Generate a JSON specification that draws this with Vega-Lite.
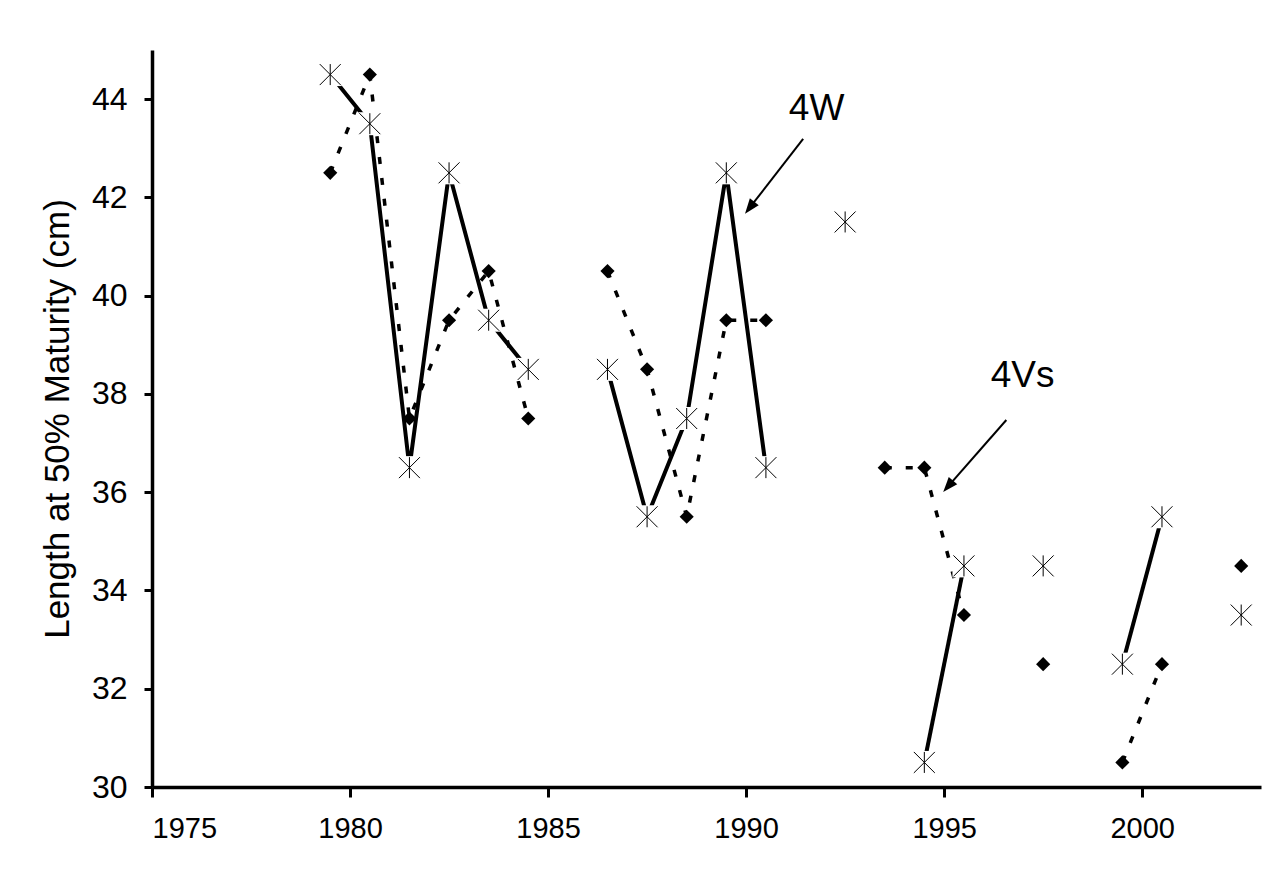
{
  "$schema": "https://vega.github.io/schema/vega-lite/v6.json",
  "width": 1109,
  "height": 737,
  "autosize": {"type": "none"},
  "padding": {"left": 152, "top": 50, "right": 23, "bottom": 92},
  "background": "white",
  "config": {
    "view": {"stroke": null},
    "font": "Liberation Sans",
    "axis": {"grid": false, "domainColor": "black", "tickColor": "black", "labelColor": "black", "titleColor": "black", "labelFont": "Liberation Sans", "titleFont": "Liberation Sans", "titleFontWeight": "normal"}
  },
  "datasets": {
    "obs": [
      {"year": 1979.5, "value": 44.5, "series": "4W", "seg": "a"},
      {"year": 1980.5, "value": 43.5, "series": "4W", "seg": "a"},
      {"year": 1981.5, "value": 36.5, "series": "4W", "seg": "a"},
      {"year": 1982.5, "value": 42.5, "series": "4W", "seg": "a"},
      {"year": 1983.5, "value": 39.5, "series": "4W", "seg": "a"},
      {"year": 1984.5, "value": 38.5, "series": "4W", "seg": "a"},
      {"year": 1986.5, "value": 38.5, "series": "4W", "seg": "b"},
      {"year": 1987.5, "value": 35.5, "series": "4W", "seg": "b"},
      {"year": 1988.5, "value": 37.5, "series": "4W", "seg": "b"},
      {"year": 1989.5, "value": 42.5, "series": "4W", "seg": "b"},
      {"year": 1990.5, "value": 36.5, "series": "4W", "seg": "b"},
      {"year": 1992.5, "value": 41.5, "series": "4W", "seg": "c"},
      {"year": 1994.5, "value": 30.5, "series": "4W", "seg": "d"},
      {"year": 1995.5, "value": 34.5, "series": "4W", "seg": "d"},
      {"year": 1997.5, "value": 34.5, "series": "4W", "seg": "e"},
      {"year": 1999.5, "value": 32.5, "series": "4W", "seg": "f"},
      {"year": 2000.5, "value": 35.5, "series": "4W", "seg": "f"},
      {"year": 2002.5, "value": 33.5, "series": "4W", "seg": "g"},
      {"year": 1979.5, "value": 42.5, "series": "4Vs", "seg": "a"},
      {"year": 1980.5, "value": 44.5, "series": "4Vs", "seg": "a"},
      {"year": 1981.5, "value": 37.5, "series": "4Vs", "seg": "a"},
      {"year": 1982.5, "value": 39.5, "series": "4Vs", "seg": "a"},
      {"year": 1983.5, "value": 40.5, "series": "4Vs", "seg": "a"},
      {"year": 1984.5, "value": 37.5, "series": "4Vs", "seg": "a"},
      {"year": 1986.5, "value": 40.5, "series": "4Vs", "seg": "b"},
      {"year": 1987.5, "value": 38.5, "series": "4Vs", "seg": "b"},
      {"year": 1988.5, "value": 35.5, "series": "4Vs", "seg": "b"},
      {"year": 1989.5, "value": 39.5, "series": "4Vs", "seg": "b"},
      {"year": 1990.5, "value": 39.5, "series": "4Vs", "seg": "b"},
      {"year": 1993.5, "value": 36.5, "series": "4Vs", "seg": "c"},
      {"year": 1994.5, "value": 36.5, "series": "4Vs", "seg": "c"},
      {"year": 1995.5, "value": 33.5, "series": "4Vs", "seg": "c"},
      {"year": 1997.5, "value": 32.5, "series": "4Vs", "seg": "d"},
      {"year": 1999.5, "value": 30.5, "series": "4Vs", "seg": "e"},
      {"year": 2000.5, "value": 32.5, "series": "4Vs", "seg": "e"},
      {"year": 2002.5, "value": 34.5, "series": "4Vs", "seg": "f"}
    ],
    "notes": [
      {"label": "4W", "tx": 1991.78, "ty": 43.8, "x1": 1991.44, "y1": 43.19, "x2": 1990.09, "y2": 41.79},
      {"label": "4Vs", "tx": 1996.98, "ty": 38.37, "x1": 1996.57, "y1": 37.47, "x2": 1995.1, "y2": 36.12}
    ]
  },
  "layer": [
    {
      "data": {"name": "obs"},
      "transform": [{"filter": "datum.series === '4Vs'"}],
      "mark": {"type": "line", "color": "black", "strokeWidth": 3.5, "strokeDash": [7, 14]},
      "encoding": {
        "x": {"field": "year", "type": "quantitative", "scale": {"domain": [1975, 2003], "nice": false, "zero": false},
          "axis": {"values": [1975, 1980, 1985, 1990, 1995, 2000], "format": "d", "title": null, "domainWidth": 3.5, "tickWidth": 3, "tickSize": 10, "labelFontSize": 29, "labelPadding": 17, "labelDx": 21}},
        "y": {"field": "value", "type": "quantitative", "scale": {"domain": [30, 45], "nice": false, "zero": false},
          "axis": {"values": [30, 32, 34, 36, 38, 40, 42, 44], "title": "Length at 50% Maturity (cm)", "domainWidth": 3.5, "tickWidth": 3, "tickSize": 8, "labelFontSize": 32, "labelPadding": 17, "titleFontSize": 35, "titlePadding": 16}},
        "detail": {"field": "seg"},
        "order": {"field": "year"}
      }
    },
    {
      "data": {"name": "obs"},
      "transform": [{"filter": "datum.series === '4W'"}],
      "mark": {"type": "line", "color": "black", "strokeWidth": 4},
      "encoding": {
        "x": {"field": "year", "type": "quantitative"},
        "y": {"field": "value", "type": "quantitative"},
        "detail": {"field": "seg"},
        "order": {"field": "year"}
      }
    },
    {
      "data": {"name": "obs"},
      "transform": [{"filter": "datum.series === '4W'"}],
      "mark": {"type": "point", "shape": "square", "filled": true, "color": "white", "opacity": 1, "size": 529},
      "encoding": {
        "x": {"field": "year", "type": "quantitative"},
        "y": {"field": "value", "type": "quantitative"}
      }
    },
    {
      "data": {"name": "obs"},
      "transform": [{"filter": "datum.series === '4W'"}],
      "mark": {"type": "point", "shape": "M-1,-1L1,1M-1,1L1,-1M0,-1L0,1", "filled": false, "stroke": "black", "strokeWidth": 1, "opacity": 1, "size": 441},
      "encoding": {
        "x": {"field": "year", "type": "quantitative"},
        "y": {"field": "value", "type": "quantitative"}
      }
    },
    {
      "data": {"name": "obs"},
      "transform": [{"filter": "datum.series === '4Vs'"}],
      "mark": {"type": "point", "shape": "diamond", "filled": true, "color": "black", "opacity": 1, "size": 200},
      "encoding": {
        "x": {"field": "year", "type": "quantitative"},
        "y": {"field": "value", "type": "quantitative"}
      }
    },
    {
      "data": {"name": "notes"},
      "mark": {"type": "rule", "color": "black", "strokeWidth": 2},
      "encoding": {
        "x": {"field": "x1", "type": "quantitative"},
        "y": {"field": "y1", "type": "quantitative"},
        "x2": {"field": "x2"},
        "y2": {"field": "y2"}
      }
    },
    {
      "data": {"name": "notes"},
      "transform": [{"filter": "datum.label === '4W'"}],
      "mark": {"type": "point", "shape": "M0,-1L-0.75,1L0.75,1Z", "filled": true, "color": "black", "opacity": 1, "size": 225, "angle": 218},
      "encoding": {
        "x": {"field": "x2", "type": "quantitative"},
        "y": {"field": "y2", "type": "quantitative"}
      }
    },
    {
      "data": {"name": "notes"},
      "transform": [{"filter": "datum.label === '4Vs'"}],
      "mark": {"type": "point", "shape": "M0,-1L-0.75,1L0.75,1Z", "filled": true, "color": "black", "opacity": 1, "size": 225, "angle": 221},
      "encoding": {
        "x": {"field": "x2", "type": "quantitative"},
        "y": {"field": "y2", "type": "quantitative"}
      }
    },
    {
      "data": {"name": "notes"},
      "mark": {"type": "text", "font": "Liberation Sans", "fontSize": 37, "color": "black", "align": "center", "baseline": "middle"},
      "encoding": {
        "x": {"field": "tx", "type": "quantitative"},
        "y": {"field": "ty", "type": "quantitative"},
        "text": {"field": "label"}
      }
    }
  ]
}
